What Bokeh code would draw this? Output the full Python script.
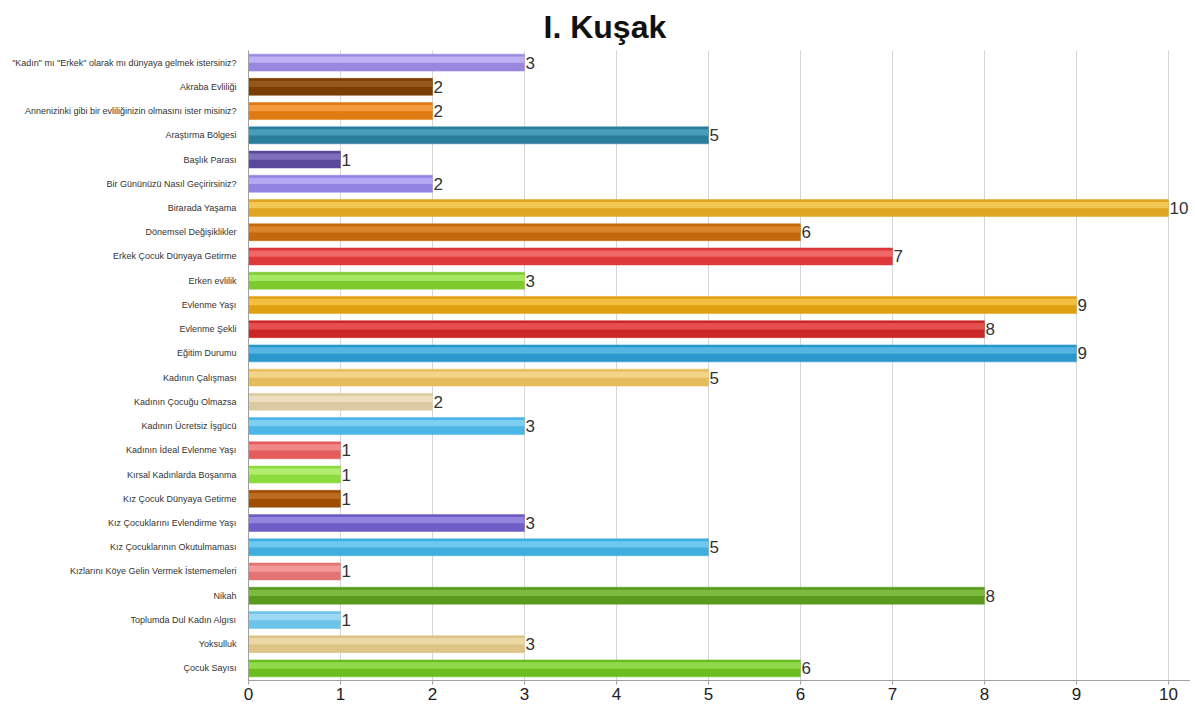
from bokeh.plotting import figure
from bokeh.models import ColumnDataSource, FactorRange, FixedTicker
from bokeh.transform import dodge
from bokeh.core.properties import value
from bokeh.embed import file_html
from bokeh.resources import INLINE

categories = [
    '"Kadın" mı "Erkek" olarak mı dünyaya gelmek istersiniz?',
    "Akraba Evliliği",
    "Annenizinki gibi bir evliliğinizin olmasını ister misiniz?",
    "Araştırma Bölgesi",
    "Başlık Parası",
    "Bir Gününüzü Nasıl Geçirirsiniz?",
    "Birarada Yaşama",
    "Dönemsel Değişiklikler",
    "Erkek Çocuk Dünyaya Getirme",
    "Erken evlilik",
    "Evlenme Yaşı",
    "Evlenme Şekli",
    "Eğitim Durumu",
    "Kadının Çalışması",
    "Kadının Çocuğu Olmazsa",
    "Kadının Ücretsiz İşgücü",
    "Kadının İdeal Evlenme Yaşı",
    "Kırsal Kadınlarda Boşanma",
    "Kız Çocuk Dünyaya Getirme",
    "Kız Çocuklarını Evlendirme Yaşı",
    "Kız Çocuklarının Okutulmaması",
    "Kızlarını Köye Gelin Vermek İstememeleri",
    "Nikah",
    "Toplumda Dul Kadın Algısı",
    "Yoksulluk",
    "Çocuk Sayısı",
]
values = [3, 2, 2, 5, 1, 2, 10, 6, 7, 3, 9, 8, 9, 5, 2, 3, 1, 1, 1, 3, 5, 1, 8, 1, 3, 6]
colors = [
    "#9a88e0", "#7a3e02", "#e07a12", "#2a7e9c", "#5a4a9c", "#9282e2",
    "#e0a622", "#c4680c", "#de3838", "#7ecb30", "#e0a012", "#cc2626",
    "#2a98cc", "#e6bc5a", "#dccba2", "#4cb6e6", "#e45c5c", "#8cdc3e",
    "#9e4e02", "#6e5ec6", "#3eaede", "#e47474", "#5a9a1e", "#6cc4ea",
    "#dec486", "#6cbe20",
]
highlights = [
    "#c4b8f6", "#9a5c1e", "#f4a044", "#4ea2c0", "#8476c2", "#bcb0f6",
    "#f4cc5e", "#de8a32", "#f27070", "#acec6a", "#f4c44a", "#e85858",
    "#5ebae6", "#f4d890", "#eee2c4", "#88d4f4", "#f49090", "#b8f07a",
    "#c07228", "#9a8ce2", "#78cef2", "#f4a0a0", "#84c046", "#a2dcf4",
    "#f0dcae", "#98de52",
]
ticks = [0, 1, 2, 3, 4, 5, 6, 7, 8, 9, 10]

src = ColumnDataSource(dict(cat=categories, val=values, col=colors, hi=highlights,
                            lab=[str(v) for v in values]))

SANS = "Liberation Sans"

p = figure(
    width=1190, height=702,
    y_range=FactorRange(factors=list(reversed(categories)), range_padding=0),
    x_range=(0, 10.24),
    output_backend="svg", toolbar_location=None,
    title="I. Kuşak",
    min_border_left=248, min_border_right=0, min_border_top=50, min_border_bottom=0,
)
p.title.align = "left"
p.title.offset = 295
p.title.text_font = SANS
p.title.text_font_size = "32px"
p.title.text_font_style = "bold"
p.title.text_color = "#111111"
p.title.standoff = 12

p.outline_line_color = None
p.background_fill_color = "white"

# bars: base + lighter highlight band
p.hbar(y="cat", right="val", left=0, height=0.70, source=src,
       fill_color="col", line_color="col", line_width=0.5)
p.hbar(y=dodge("cat", 0.12, range=p.y_range), right="val", left=0, height=0.26,
       source=src, fill_color="hi", line_color=None, fill_alpha=0.85)

p.text(x="val", y="cat", text="lab", source=src, x_offset=1,
       text_baseline="middle", text_align="left",
       text_font=value(SANS), text_font_size="17px", text_color="#333333")

p.xgrid.ticker = FixedTicker(ticks=ticks)
p.xgrid.grid_line_color = "#d6d6d6"
p.xgrid.grid_line_width = 1
p.ygrid.grid_line_color = None

p.xaxis.ticker = FixedTicker(ticks=ticks)
p.xaxis.major_label_text_font = SANS
p.xaxis.major_label_text_font_size = "17px"
p.xaxis.major_label_text_color = "#222222"
p.xaxis.axis_line_color = "#a0a0a0"
p.xaxis.major_tick_line_color = "#a0a0a0"
p.xaxis.major_tick_out = 4
p.xaxis.major_tick_in = 0
p.xaxis.minor_tick_line_color = None
p.xaxis.major_label_standoff = 3

p.yaxis.major_label_text_font = SANS
p.yaxis.major_label_text_font_size = "9px"
p.yaxis.major_label_text_color = "#333333"
p.yaxis.axis_line_color = "#a0a0a0"
p.yaxis.major_tick_line_color = None
p.yaxis.minor_tick_line_color = None
p.yaxis.major_label_standoff = 6

open("out.html", "w").write(file_html(p, INLINE))
